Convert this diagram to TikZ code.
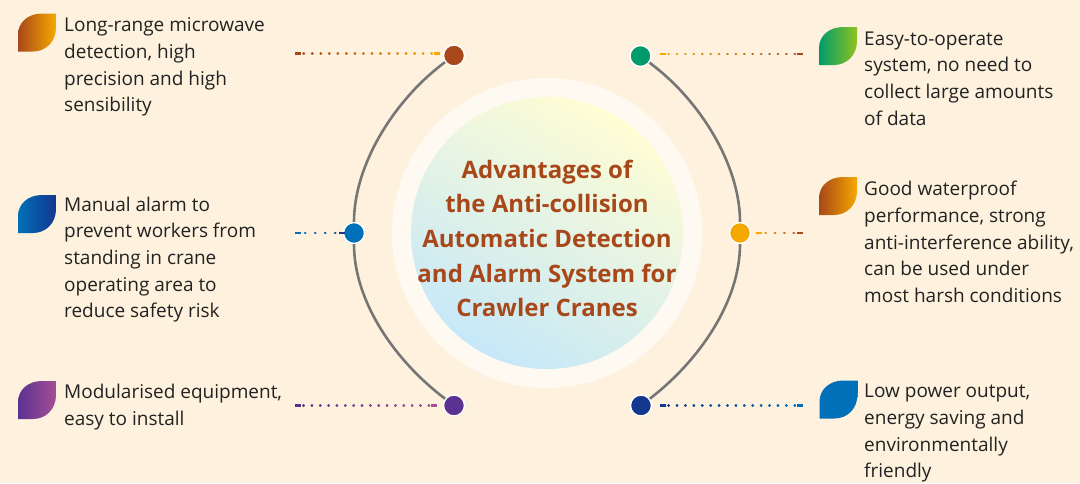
\documentclass[tikz,border=0pt]{standalone}
\usepackage{fontspec}
\setmainfont{Open Sans}
\usetikzlibrary{calc}
\definecolor{paper}{HTML}{FEF2DE}
\definecolor{halo}{HTML}{FEF9F1}
\definecolor{rust}{HTML}{A8481A}
\definecolor{amber}{HTML}{F5A800}
\definecolor{leafgreen}{HTML}{009B6B}
\definecolor{lime}{HTML}{8FC31F}
\definecolor{navy}{HTML}{14378F}
\definecolor{skyblue}{HTML}{0070B8}
\definecolor{violet}{HTML}{5B3291}
\definecolor{orchid}{HTML}{A54E96}
\definecolor{armgray}{HTML}{767676}
\definecolor{inktext}{HTML}{222222}
\definecolor{discblue}{HTML}{C6E8F8}
\definecolor{discyellow}{HTML}{FFFDD4}
\tikzset{
  dotnode/.style={circle,draw=white,line width=1.4pt,minimum size=21pt,inner sep=0pt},
  armline/.style={armgray,line width=2.6pt},
  benefit/.style={anchor=north west,align=left,inner sep=0pt,text=inktext,font=\fontsize{19}{26.7}\selectfont},
  headline/.style={align=center,inner sep=0pt,text=rust,font=\fontsize{24}{34.6}\selectfont\bfseries},
}
% leaf mark: x, y of the top left corner, colour left, colour right
\newcommand{\leafmark}[4]{
  \shade[left color=#3,right color=#4,shift={(#1,#2)}]
    (0,38) -- (0,21) .. controls (0,9) and (10,0) .. (24,0) -- (38,0) -- (38,14)
    .. controls (38,28) and (28,38) .. (15,38) -- cycle;
}
% dotted link made of short pieces: from, to, colour at from, colour at to, pieces
\newcommand{\dotlink}[5]{
  \draw[#3,line width=2.6pt] (#1) -- ++(6,0);
  \draw[#4,line width=2.6pt] ($(#2)+(-6,0)$) -- (#2);
  \foreach \k in {1,...,#5}{
    \pgfmathsetmacro{\mix}{100-100*\k/(#5+1)}
    \pgfmathsetmacro{\ta}{\k/(#5+1)}
    \draw[#3!\mix!#4,line width=2.6pt,line cap=round] ($(#1)!\ta!(#2)$) -- ++(0.4,0);
  }
}
\begin{document}
\begin{tikzpicture}[x=1pt,y=-1pt]
\useasboundingbox (0,0) rectangle (1080,483);
\fill[paper] (0,0) rectangle (1080,483);

% centre
\fill[halo] (547,233) circle[radius=155];
\shade[left color=discblue,right color=discyellow,shading angle=150] (547,233) circle[radius=136];
\node[headline] (title) at (547,238.5) {Advantages of\\the Anti-collision\\Automatic Detection\\and Alarm System for\\Crawler Cranes};

% dots
\node[dotnode,fill=rust] (dotA) at (454,55.5) {};
\node[dotnode,fill=skyblue] (dotB) at (354,233) {};
\node[dotnode,fill=violet] (dotC) at (454,405.5) {};
\node[dotnode,fill=leafgreen] (dotD) at (640.5,56) {};
\node[dotnode,fill=amber] (dotE) at (740,233) {};
\node[dotnode,fill=navy] (dotF) at (641,405.5) {};

% arms
\draw[armline] (dotA) .. controls (394,100) and (354,165) .. (dotB);
\draw[armline] (dotB) .. controls (354,301) and (394,360) .. (dotC);
\draw[armline] (dotD) .. controls (700,100) and (740,165) .. (dotE);
\draw[armline] (dotE) .. controls (740,301) and (700,360) .. (dotF);

% free ends of the links
\coordinate (endA1) at (295,53.5);
\coordinate (endA2) at (440,53.5);
\coordinate (endB1) at (295,233);
\coordinate (endB2) at (345,233);
\coordinate (endC1) at (295,405.5);
\coordinate (endC2) at (437,405.5);
\coordinate (endD1) at (660,54);
\coordinate (endD2) at (803,54);
\coordinate (endE1) at (756,233);
\coordinate (endE2) at (803,233);
\coordinate (endF1) at (660,405.5);
\coordinate (endF2) at (803,405.5);
\dotlink{endA1}{endA2}{rust}{amber}{16}
\dotlink{endB1}{endB2}{skyblue}{navy}{4}
\dotlink{endC1}{endC2}{violet}{orchid}{16}
\dotlink{endD1}{endD2}{amber}{rust}{16}
\dotlink{endE1}{endE2}{amber}{rust}{4}
\dotlink{endF1}{endF2}{navy}{skyblue}{16}

% leaves
\leafmark{18}{13.5}{rust}{amber}
\leafmark{18}{195}{skyblue}{navy}
\leafmark{18}{381}{violet}{orchid}
\leafmark{819}{27}{leafgreen}{lime}
\leafmark{819}{177}{rust}{amber}
\leafmark{819.5}{380.5}{skyblue}{skyblue}

% texts
\node[benefit] (textA) at (64,17.5) {Long-range microwave\\detection, high\\precision and high\\sensibility};
\node[benefit] (textB) at (64,196.5) {Manual alarm to\\prevent workers from\\standing in crane\\operating area to\\reduce safety risk};
\node[benefit] (textC) at (64,384) {Modularised equipment,\\easy to install};
\node[benefit] (textD) at (864,31.5) {Easy-to-operate\\system, no need to\\collect large amounts\\of data};
\node[benefit] (textE) at (864,181) {Good waterproof\\performance, strong\\anti-interference ability,\\can be used under\\most harsh conditions};
\node[benefit] (textF) at (864,384) {Low power output,\\energy saving and\\environmentally\\friendly};
\end{tikzpicture}
\end{document}
